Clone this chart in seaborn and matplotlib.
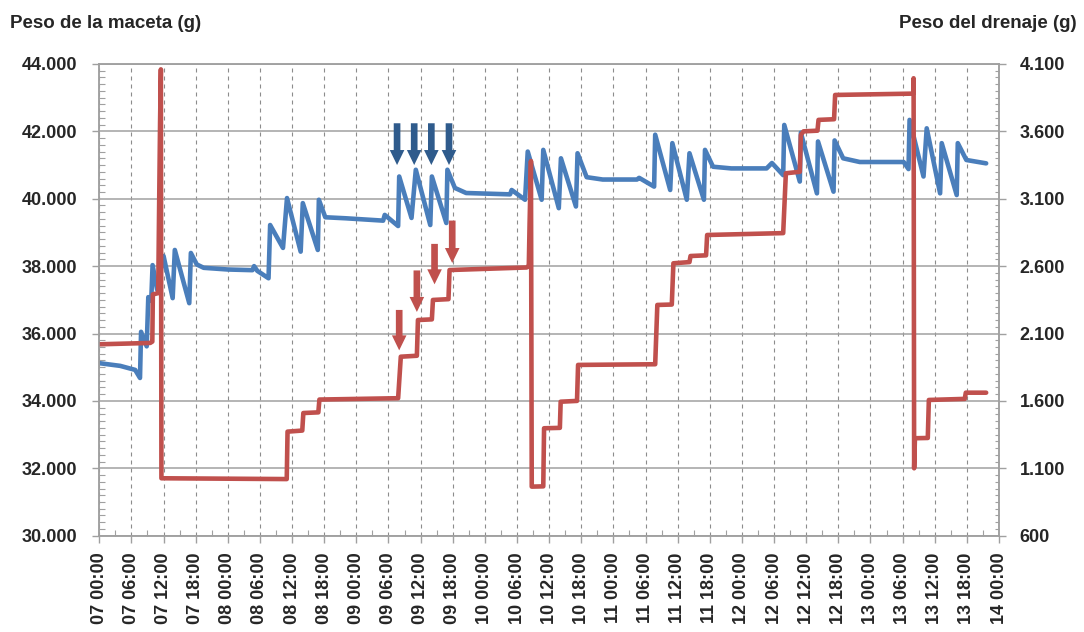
import pandas as pd
import matplotlib
matplotlib.use('Agg')
import matplotlib.pyplot as plt
import matplotlib.dates as mdates
import matplotlib.ticker as mticker
import seaborn as sns

# Horas desde el 07 00:00
start = pd.Timestamp('2013-05-07 00:00')

pot_hours = [0, 3.9, 6.7, 7.6, 7.8, 8.85, 9.15, 9.7, 9.95, 10.8, 12.0, 13.7, 14.1, 16.8,
             17.1, 18.2, 19.5, 24, 28.6, 28.9, 29.5, 31.6, 31.9, 34.3, 35.05, 37.6, 38.0,
             40.8, 41.0, 42.2, 46, 53.0, 53.3, 55.8, 56.0, 58.3, 59.1, 61.8, 62.1, 64.8,
             65.0, 66.4, 68.5, 76.7, 77.0, 79.5, 80.0, 82.6, 82.9, 85.8, 86.2, 89.0, 89.3,
             91.0, 94, 100.4, 100.8, 103.6, 103.8, 106.6, 107.0, 109.7, 110.2, 112.9, 113.1,
             114.6, 118, 124.6, 125.6, 127.7, 127.9, 130.8, 131.0, 134.0, 134.2, 137.1,
             137.3, 138.9, 142, 150.2, 151.1, 151.3, 153.9, 154.5, 157.0, 157.3, 160.1,
             160.3, 161.9, 165.6]
pot_weight = [35120, 35040, 34920, 34680, 36050, 35620, 37080, 36980, 38030, 37300, 38300,
              37050, 38480, 36900, 38390, 38050, 37950, 37900, 37880, 38000, 37860, 37640,
              39220, 38540, 40020, 38430, 39870, 38480, 39970, 39450, 39420, 39350, 39520,
              39190, 40660, 39430, 40860, 39220, 40660, 39280, 40860, 40320, 40170, 40130,
              40260, 39970, 41400, 39970, 41450, 39720, 41200, 39770, 41350, 40640, 40570,
              40570, 40620, 40360, 41900, 40260, 41650, 39970, 41350, 39970, 41450, 40950,
              40900, 40900, 41060, 40700, 42190, 40510, 41960, 40160, 41700, 40210, 41730,
              41200, 41090, 41090, 40880, 42340, 40660, 42090, 40160, 41650, 40110, 41650,
              41150, 41050]

drain_hours = [0, 9.5, 9.9, 10.0, 11.0, 11.15, 11.35, 11.5, 11.6, 35.0, 35.15, 37.9, 38.1,
               40.9, 41.1, 55.8, 56.3, 59.3, 59.5, 62.1, 62.3, 65.2, 65.4, 79.8, 80.2, 80.35,
               80.6, 80.75, 82.9, 83.05, 86.0, 86.15, 89.2, 89.4, 103.8, 104.2, 106.9, 107.2,
               110.2, 110.4, 113.3, 113.5, 127.7, 128.2, 130.8, 131.0, 131.5, 134.1, 134.3,
               137.2, 137.4, 152.0, 152.05, 152.15, 152.3, 154.7, 154.9, 161.6, 161.8, 165.6]
drain_weight = [2020, 2030, 2040, 2390, 2400, 2960, 3670, 4060, 1026, 1020, 1372, 1380, 1510,
                1515, 1610, 1620, 1928, 1935, 2200, 2205, 2349, 2355, 2571, 2590, 2600, 2920,
                3380, 964, 966, 1397, 1400, 1594, 1600, 1867, 1872, 2312, 2315, 2621, 2630,
                2675, 2680, 2831, 2845, 3289, 3300, 3573, 3600, 3605, 3685, 3690, 3870, 3880,
                3994, 1100, 1323, 1325, 1607, 1615, 1661, 1661]

# flechas (riegos)
blue_arrow_hours = [55.6, 58.8, 62.0, 65.3]
blue_arrow_top = [42240, 42240, 42240, 42240]
blue_arrow_tip = [41000, 41000, 41000, 41000]
red_arrow_hours = [56.0, 59.3, 62.6, 65.9]
red_arrow_top = [2275, 2568, 2765, 2938]
red_arrow_tip = [1975, 2260, 2465, 2623]

pot = pd.DataFrame({'fecha': start + pd.to_timedelta(pot_hours, unit='h'), 'peso': pot_weight})
drain = pd.DataFrame({'fecha': start + pd.to_timedelta(drain_hours, unit='h'), 'peso': drain_weight})

sns.set_style('ticks')
plt.rcParams['font.family'] = ['Liberation Sans', 'DejaVu Sans']
plt.rcParams['font.weight'] = 'bold'

fig = plt.figure(figsize=(10.84, 6.32), dpi=100)
ax = fig.add_axes([0.0916, 0.1524, 0.830, 0.7464])
ax2 = ax.twinx()

sns.lineplot(data=pot, x='fecha', y='peso', ax=ax, color='#4A7EBB', lw=3.3, estimator=None)
sns.lineplot(data=drain, x='fecha', y='peso', ax=ax2, color='#C0504D', lw=3.3, estimator=None)

ax.set_xlim(start, start + pd.Timedelta(hours=168))
ax.set_ylim(30000, 44000)
ax2.set_ylim(600, 4100)
ax.set_xlabel('')
ax.set_ylabel('')
ax2.set_ylabel('')

fmt = mticker.FuncFormatter(lambda v, p: f'{v:,.0f}'.replace(',', '.'))
ax.yaxis.set_major_locator(mticker.MultipleLocator(2000))
ax.yaxis.set_minor_locator(mticker.MultipleLocator(200))
ax.yaxis.set_major_formatter(fmt)
ax2.set_yticks(range(600, 4101, 500))
ax2.yaxis.set_minor_locator(mticker.MultipleLocator(50))
ax2.yaxis.set_major_formatter(fmt)

ax.xaxis.set_major_locator(mdates.HourLocator(byhour=[0, 6, 12, 18]))
ax.xaxis.set_minor_locator(mdates.HourLocator(byhour=[3, 9, 15, 21]))
ax.xaxis.set_major_formatter(mdates.DateFormatter('%d %H:%M'))

gray = '#A0A0A0'
ax.set_axisbelow(True)
ax.yaxis.grid(True, color=gray, lw=1.1)
ax.xaxis.grid(True, which='major', color='#8C8C8C', lw=0.8, ls=(0, (3.6, 3.6)))

for a in (ax, ax2):
    for s in a.spines.values():
        s.set_color(gray)
        s.set_linewidth(1.1)

ax.tick_params(axis='y', which='major', direction='out', length=5, width=1, color=gray,
               pad=11, labelsize=13)
ax.tick_params(axis='y', which='minor', direction='in', length=4, width=0.8, color=gray)
ax2.tick_params(axis='y', which='major', direction='out', length=5, width=1, color=gray,
                pad=10, labelsize=13)
ax2.tick_params(axis='y', which='minor', direction='in', length=3, width=0.8, color=gray)
ax.tick_params(axis='x', which='major', direction='out', length=5, width=1, color=gray,
               pad=7, labelsize=13, labelrotation=90)
ax.tick_params(axis='x', which='minor', direction='in', length=4, width=0.8, color=gray)

style = 'simple,head_length=1.08,head_width=1.05,tail_width=0.48'
for h, top, tip in zip(blue_arrow_hours, blue_arrow_top, blue_arrow_tip):
    x = mdates.date2num(start + pd.Timedelta(hours=h))
    ax.annotate('', xy=(x, tip), xytext=(x, top),
                arrowprops=dict(arrowstyle=style, mutation_scale=10, color='#2F5B8C',
                                lw=0, shrinkA=0, shrinkB=0))
for h, top, tip in zip(red_arrow_hours, red_arrow_top, red_arrow_tip):
    x = mdates.date2num(start + pd.Timedelta(hours=h))
    ax2.annotate('', xy=(x, tip), xytext=(x, top),
                 arrowprops=dict(arrowstyle=style, mutation_scale=10, color='#C0504D',
                                 lw=0, shrinkA=0, shrinkB=0))

fig.text(10 / 1084, 1 - 28 / 632, 'Peso de la maceta (g)', fontsize=13.5,
         fontweight='bold', ha='left', va='baseline')
fig.text(1077 / 1084, 1 - 28 / 632, 'Peso del drenaje (g)', fontsize=13.5,
         fontweight='bold', ha='right', va='baseline')

fig.savefig('out.png', dpi=100)
